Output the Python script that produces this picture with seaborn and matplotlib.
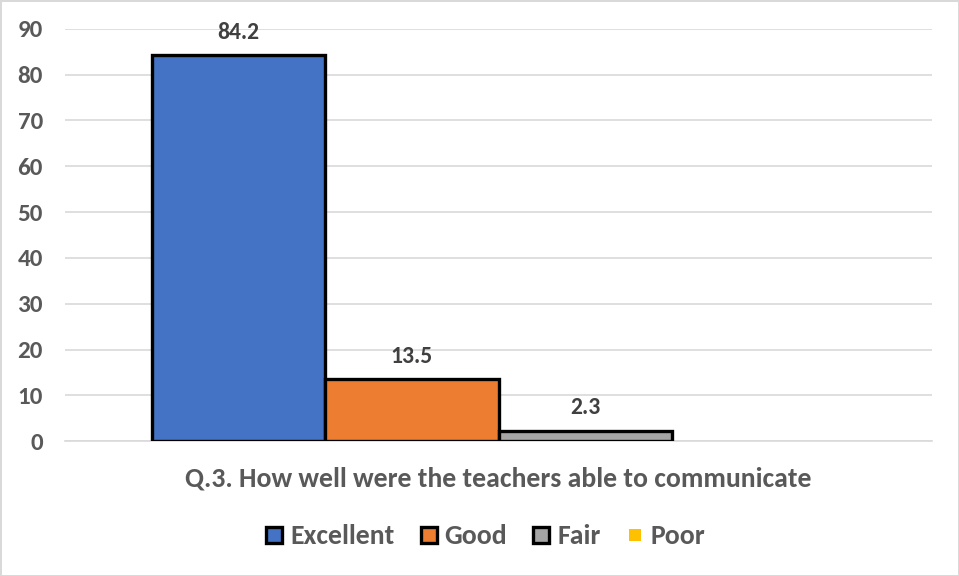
import pandas as pd
import matplotlib.pyplot as plt
import seaborn as sns
from matplotlib.lines import Line2D

# chart data
questions = ["Q.3. How well were the teachers able to communicate"]
ratings = ["Excellent", "Good", "Fair", "Poor"]
percent = [84.2, 13.5, 2.3, 0.0]
colors = ["#4472C4", "#ED7D31", "#A5A5A5", "#FFC000"]
yticks = [0, 10, 20, 30, 40, 50, 60, 70, 80, 90]

df = pd.DataFrame({
    "question": questions * len(ratings),
    "rating": ratings,
    "percent": percent,
})

sns.set_style("white")
plt.rcParams["font.family"] = ["Carlito", "DejaVu Sans"]
plt.rcParams["font.weight"] = "bold"

text_grey = "#595959"
grid_grey = "#D9D9D9"

fig = plt.figure(figsize=(9.59, 5.76), dpi=100)
fig.patch.set_edgecolor(grid_grey)
fig.patch.set_linewidth(2)
ax = fig.add_axes([0.068, 0.234, 0.904, 0.716])

sns.barplot(
    data=df, x="question", y="percent", hue="rating",
    palette=colors, saturation=1, edgecolor="black", linewidth=2.4,
    width=0.8, legend=False, ax=ax, zorder=3,
)

# hide the zero bar and label the rest
for cont, r in zip(ax.containers, ratings):
    if r == "Poor":
        for p in cont:
            p.set_linewidth(0)
        continue
    ax.bar_label(cont, fmt="%.1f", padding=9, fontsize=17,
                 fontweight="bold", color="#404040")

ax.set_ylim(0, 90)
ax.set_xlim(-0.5, 0.5)
ax.set_yticks(yticks)
ax.yaxis.grid(True, color=grid_grey, linewidth=1.2, zorder=0)
ax.set_axisbelow(True)
for side in ["left", "top", "right"]:
    ax.spines[side].set_visible(False)
ax.spines["bottom"].set_color(grid_grey)
ax.spines["bottom"].set_linewidth(1.2)

ax.tick_params(axis="y", length=0, pad=16, labelsize=18, labelcolor=text_grey)
ax.tick_params(axis="x", which="major", length=0, pad=18, labelsize=20,
               labelcolor=text_grey)
ax.set_xticks([-0.5, 0.5], minor=True)
ax.tick_params(axis="x", which="minor", length=8, width=1.2, color=grid_grey,
               direction="out")
for lbl in ax.get_xticklabels() + ax.get_yticklabels():
    lbl.set_fontweight("bold")
ax.set_xlabel("")
ax.set_ylabel("")

handles = []
for r, c in zip(ratings, colors):
    if r == "Poor":
        handles.append(Line2D([], [], marker="s", linestyle="none", markersize=8.5,
                              markerfacecolor=c, markeredgewidth=0, label=r))
    else:
        handles.append(Line2D([], [], marker="s", linestyle="none", markersize=12,
                              markerfacecolor=c, markeredgecolor="black",
                              markeredgewidth=2.4, label=r))
fig.legend(handles=handles, loc="center", bbox_to_anchor=(0.506, 0.069), ncol=4,
           frameon=False, prop={"size": 20, "weight": "bold"},
           handlelength=0.65, handletextpad=0.25, columnspacing=0.9,
           labelcolor=text_grey)

fig.savefig("out.png", dpi=100, edgecolor=fig.get_edgecolor())
